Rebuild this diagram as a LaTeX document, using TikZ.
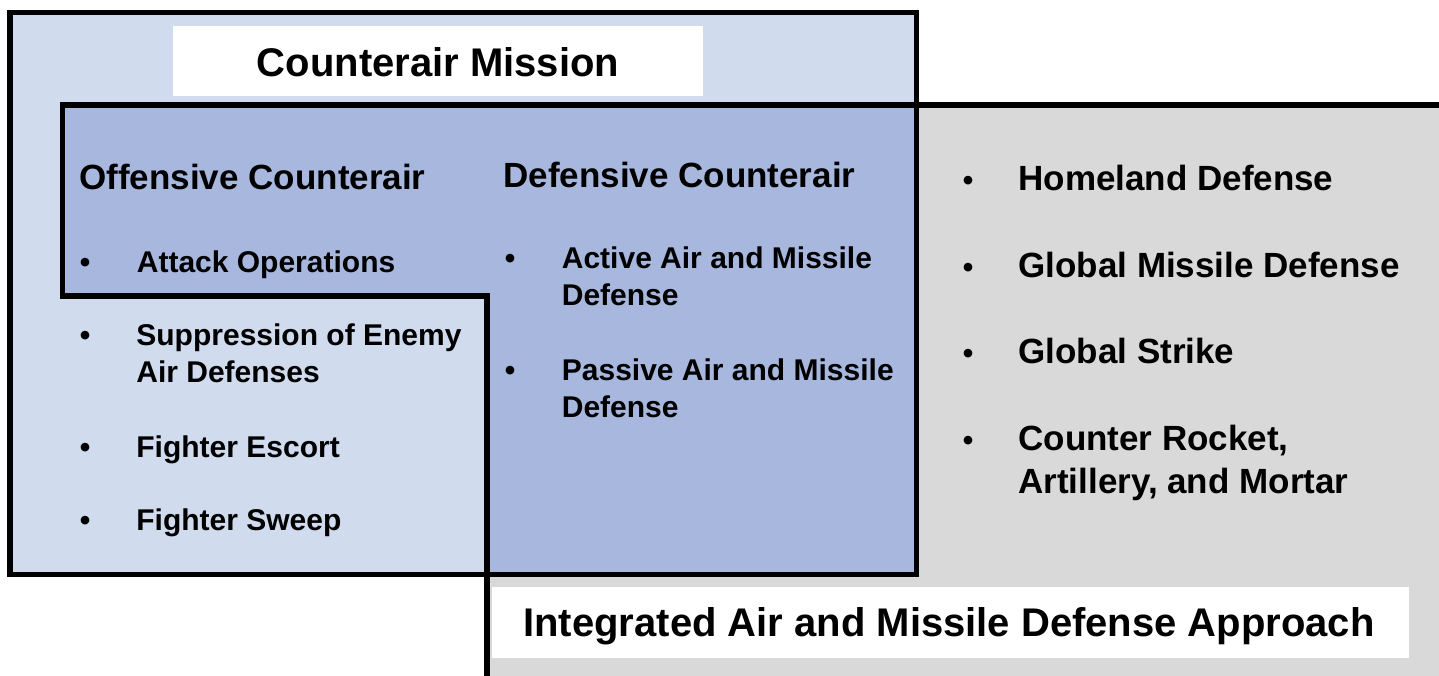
\documentclass[tikz,border=0pt]{standalone}
\usepackage{fontspec}
\setmainfont{Liberation Sans}
\definecolor{lightblue}{RGB}{208,219,238}
\definecolor{darkblue}{RGB}{167,183,222}
\definecolor{iamdgray}{RGB}{217,217,217}
\begin{document}
\begin{tikzpicture}[x=0.5pt,y=-0.5pt,
  frame/.style={line width=2.8pt, line join=miter},
  labelbox/.style={fill=white, draw=none},
  titletxt/.style={anchor=base, inner sep=0pt, font=\bfseries\fontsize{20pt}{24pt}\selectfont},
  headtxt/.style={anchor=base west, inner sep=0pt, font=\bfseries\fontsize{17.5pt}{21pt}\selectfont},
  itemtxt/.style={anchor=base west, inner sep=0pt, font=\bfseries\fontsize{15pt}{18pt}\selectfont},
  ritemtxt/.style={anchor=base west, inner sep=0pt, font=\bfseries\fontsize{17.5pt}{21pt}\selectfont},
  bul/.style={anchor=base, inner sep=0pt, font=\bfseries\fontsize{15pt}{18pt}\selectfont}]
\useasboundingbox (0,0) rectangle (1439,675);
\clip (0,0) rectangle (1439,675);
% background fills
\fill[white] (0,0) rectangle (1439,675);
\fill[lightblue] (10,12.5) rectangle (916.5,574.5);
\fill[iamdgray] (62.5,105) -- (1450,105) -- (1450,690) -- (487,690) -- (487,296) -- (62.5,296) -- cycle;
\fill[darkblue] (62.5,105) -- (916.5,105) -- (916.5,574.5) -- (487,574.5) -- (487,296) -- (62.5,296) -- cycle;
% label boxes
\fill[labelbox] (173,26) rectangle (703,96);
\fill[labelbox] (492,587) rectangle (1409,658);
% outlines
\draw[frame] (10,12.5) rectangle (916.5,574.5);
\draw[frame] (1450,690) -- (487,690) -- (487,296) -- (62.5,296) -- (62.5,105) -- (1450,105);
% titles
\node[titletxt] (camtitle) at (438,76) {Counterair Mission};
\node[titletxt] (iamdtitle) at (949,636) {Integrated Air and Missile Defense Approach};
% offensive counterair
\node[headtxt] (oca) at (79,189) {Offensive Counterair};
\node[bul] (b1) at (85,272) {•};
\node[itemtxt] (attack) at (136.5,272) {Attack Operations};
\node[bul] (b2) at (85,345) {•};
\node[itemtxt] (sead1) at (136,345) {Suppression of Enemy};
\node[itemtxt] (sead2) at (136,382) {Air Defenses};
\node[bul] (b3) at (85,457) {•};
\node[itemtxt] (escort) at (136,457) {Fighter Escort};
\node[bul] (b4) at (85,530) {•};
\node[itemtxt] (sweep) at (136,530) {Fighter Sweep};
% defensive counterair
\node[headtxt] (dca) at (503,187) {Defensive Counterair};
\node[bul] (b5) at (510,268) {•};
\node[itemtxt] (active1) at (561.5,268) {Active Air and Missile};
\node[itemtxt] (active2) at (561.5,305) {Defense};
\node[bul] (b6) at (510,380) {•};
\node[itemtxt] (passive1) at (561.5,380) {Passive Air and Missile};
\node[itemtxt] (passive2) at (561.5,417) {Defense};
% IAMD items
\node[bul] (b7) at (968,190) {•};
\node[ritemtxt] (homeland) at (1018,190) {Homeland Defense};
\node[bul] (b8) at (968,277) {•};
\node[ritemtxt] (gmd) at (1018,277) {Global Missile Defense};
\node[bul] (b9) at (968,363) {•};
\node[ritemtxt] (strike) at (1018,363) {Global Strike};
\node[bul] (b10) at (968,450) {•};
\node[ritemtxt] (cram1) at (1018,450) {Counter Rocket,};
\node[ritemtxt] (cram2) at (1018,493) {Artillery, and Mortar};
\end{tikzpicture}
\end{document}
